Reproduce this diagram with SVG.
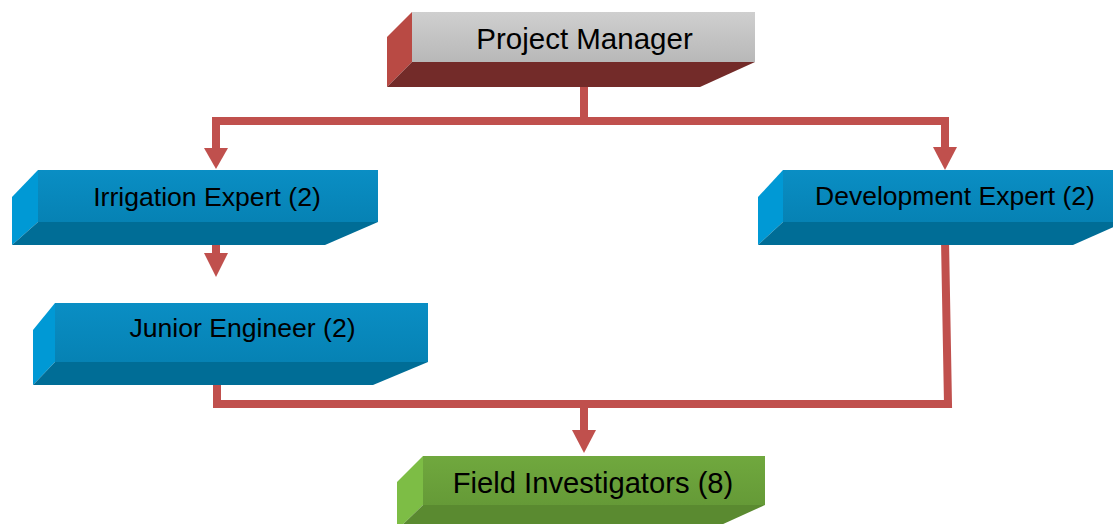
<svg xmlns="http://www.w3.org/2000/svg" width="1113" height="524" viewBox="0 0 1113 524">
<defs>
<linearGradient id="gGray" x1="0" y1="0" x2="0" y2="1"><stop offset="0" stop-color="#cfcfcf"/><stop offset="1" stop-color="#b8b8b8"/></linearGradient>
<linearGradient id="gBlue" x1="0" y1="0" x2="0" y2="1"><stop offset="0" stop-color="#0a8ec4"/><stop offset="1" stop-color="#0682b4"/></linearGradient>
<linearGradient id="gGreen" x1="0" y1="0" x2="0" y2="1"><stop offset="0" stop-color="#70a83e"/><stop offset="1" stop-color="#659a37"/></linearGradient>
</defs>
<style>
.lbl{font-family:"Liberation Sans",Arial,sans-serif;fill:#000;text-anchor:middle}
.conn{fill:none;stroke:#c0504d;stroke-width:8;stroke-linejoin:miter;stroke-linecap:butt}
.head{fill:#c0504d}
.redSide{fill:#b94a44}.redBot{fill:#732b29}
.blueSide{fill:#0099d5}.blueBot{fill:#006d96}
.greenSide{fill:#7dbd45}.greenBot{fill:#5a8a30}
</style>
<rect width="1113" height="524" fill="#ffffff"/>

<g id="connectors">
<polyline class="conn" points="584,75 584,121"/>
<polyline class="conn" points="945,147 945,121 216,121 216,148"/>
<polygon class="head" points="204,148 228,148 216,169"/>
<polygon class="head" points="933,147 957,147 945,170"/>
<polyline class="conn" points="216,239 216,253"/>
<polygon class="head" points="204,253 228,253 216,277"/>
<polyline class="conn" points="945,240 948,404 217,404 217,385"/>
<polyline class="conn" points="584,404 584,431"/>
<polygon class="head" points="572,430 596,430 584,453"/>
</g>

<g id="node-project-manager">
<polygon class="redSide" points="387,37 412,12 412,62 387,87"/>
<polygon class="redBot" points="387,87 700,87 755,62 412,62"/>
<rect x="412" y="12" width="343" height="50" fill="url(#gGray)"/>
<text class="lbl" x="584.5" y="48.5" font-size="29.5">Project Manager</text>
</g>

<g id="node-irrigation-expert">
<polygon class="blueSide" points="12,197 38,170 38,222 12,245"/>
<polygon class="blueBot" points="12,245 325,245 378,222 38,222"/>
<rect x="38" y="170" width="340" height="52" fill="url(#gBlue)"/>
<text class="lbl" x="207" y="205.5" font-size="26.6">Irrigation Expert (2)</text>
</g>

<g id="node-development-expert">
<polygon class="blueSide" points="758,197 783,170 783,222 758,245"/>
<polygon class="blueBot" points="758,245 1073,245 1125,222 783,222"/>
<rect x="783" y="170" width="340" height="52" fill="url(#gBlue)"/>
<text class="lbl" x="955" y="205" font-size="26.5">Development Expert (2)</text>
</g>

<g id="node-junior-engineer">
<polygon class="blueSide" points="33,330 55,303 55,362 33,385"/>
<polygon class="blueBot" points="33,385 373,385 428,362 55,362"/>
<rect x="55" y="303" width="373" height="59" fill="url(#gBlue)"/>
<text class="lbl" x="242.5" y="337" font-size="26.6">Junior Engineer (2)</text>
</g>

<g id="node-field-investigators">
<polygon class="greenSide" points="397,482 423,456 423,505 397,530"/>
<polygon class="greenBot" points="397,530 710,530 765,505 423,505"/>
<rect x="423" y="456" width="342" height="49" fill="url(#gGreen)"/>
<text class="lbl" x="593" y="493" font-size="29.2">Field Investigators (8)</text>
</g>
</svg>
